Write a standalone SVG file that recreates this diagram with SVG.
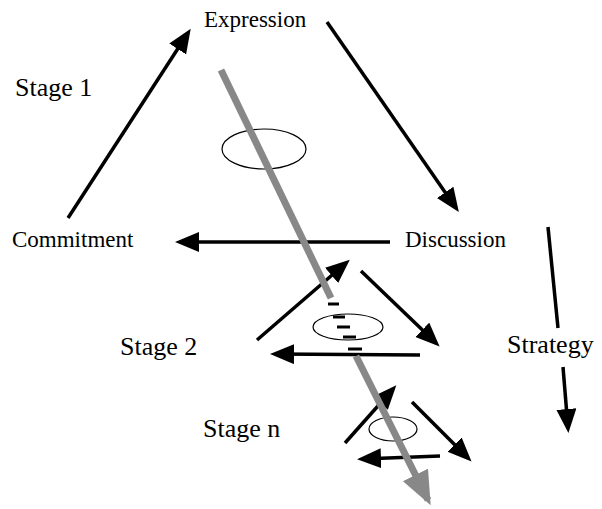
<svg xmlns="http://www.w3.org/2000/svg" width="602" height="509" viewBox="0 0 602 509">
<defs>
<marker id="ah" markerUnits="userSpaceOnUse" markerWidth="26" markerHeight="22" refX="19" refY="10" orient="auto">
<path d="M0,0 L24,10 L0,20 z" fill="#000"/>
</marker>
<marker id="ahg" markerUnits="userSpaceOnUse" markerWidth="38" markerHeight="32" refX="28" refY="14" orient="auto">
<path d="M0,0 L34,14 L0,28 z" fill="#888"/>
</marker>
</defs>
<style>
.lbl{font-family:"Liberation Serif","DejaVu Serif",serif;fill:#000}
.big{font-size:26px}
.med{font-size:23px}
.arr{stroke:#000;stroke-width:3.5;fill:none;marker-end:url(#ah)}
.ln{stroke:#000;stroke-width:3.5;fill:none}
.ell{fill:none;stroke:#000;stroke-width:1.2}
.gray{stroke:#888;stroke-width:7;fill:none}
.dash{stroke:#000;stroke-width:3}
</style>
<rect width="602" height="509" fill="#fff"/>
<g id="connectors">
<line class="arr" x1="68" y1="218" x2="188" y2="33"/>
<line class="arr" x1="327" y1="22" x2="456" y2="208"/>
<line class="arr" x1="390" y1="242" x2="180" y2="242"/>
<line class="ln" x1="548" y1="227" x2="558" y2="328"/>
<line class="arr" x1="563" y1="367" x2="568" y2="428"/>
<line class="arr" x1="257" y1="340" x2="346" y2="263"/>
<line class="arr" x1="361" y1="271" x2="436" y2="343"/>
<line class="arr" x1="420" y1="355" x2="275" y2="354"/>
<line class="arr" x1="345" y1="443" x2="393" y2="389"/>
<line class="arr" x1="412" y1="402" x2="468" y2="458"/>
<line class="arr" x1="440" y1="456" x2="362" y2="459"/>
</g>
<g id="ellipses">
<ellipse class="ell" cx="264" cy="149" rx="42" ry="20"/>
<ellipse class="ell" cx="348" cy="327" rx="35" ry="13"/>
<ellipse class="ell" cx="393" cy="429" rx="24" ry="12"/>
</g>
<g id="gray-arrow">
<line class="gray" x1="221" y1="70" x2="331" y2="298"/>
<line class="gray" x1="356" y1="356" x2="428" y2="500" style="marker-end:url(#ahg)"/>
<line class="dash" x1="328" y1="304" x2="339" y2="304"/>
<line class="dash" x1="333" y1="317" x2="345" y2="317"/>
<line class="dash" x1="337" y1="327" x2="350" y2="327"/>
<line class="dash" x1="343" y1="337" x2="356" y2="337"/>
<line class="dash" x1="348" y1="349" x2="362" y2="349"/>
</g>
<g id="expression"><text class="lbl med" x="204" y="27">Expression</text></g>
<g id="stage1"><text class="lbl big" x="15" y="96">Stage 1</text></g>
<g id="commitment"><text class="lbl med" x="12" y="247">Commitment</text></g>
<g id="discussion"><text class="lbl med" x="405" y="247">Discussion</text></g>
<g id="stage2"><text class="lbl big" x="120" y="355">Stage 2</text></g>
<g id="strategy"><text class="lbl big" x="507" y="353">Strategy</text></g>
<g id="stagen"><text class="lbl big" x="203" y="437">Stage n</text></g>
</svg>
